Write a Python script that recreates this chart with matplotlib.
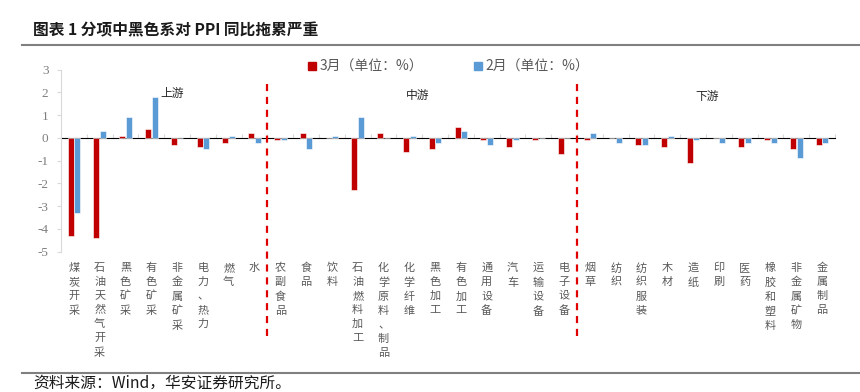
import matplotlib
matplotlib.use("Agg")
import matplotlib.pyplot as plt
import matplotlib.transforms as mtransforms
from matplotlib.lines import Line2D
import numpy as np

plt.rcParams['font.family'] = ['Noto Sans CJK SC', 'DejaVu Sans']

categories = ["煤炭开采", "石油天然气开采", "黑色矿采", "有色矿采", "非金属矿采", "电力、热力", "燃气", "水",
              "农副食品", "食品", "饮料", "石油燃料加工", "化学原料、制品", "化学纤维", "黑色加工", "有色加工",
              "通用设备", "汽车", "运输设备", "电子设备",
              "烟草", "纺织", "纺织服装", "木材", "造纸", "印刷", "医药", "橡胶和塑料", "非金属矿物", "金属制品"]
march = [-4.3, -4.4, 0.1, 0.4, -0.3, -0.4, -0.2, 0.2,
         -0.1, 0.2, 0.0, -2.3, 0.2, -0.6, -0.5, 0.5, -0.1, -0.4, -0.1, -0.7,
         -0.1, 0.0, -0.3, -0.4, -1.1, 0.0, -0.4, -0.1, -0.5, -0.3]
feb = [-3.3, 0.3, 0.9, 1.8, 0.0, -0.5, 0.1, -0.2,
       -0.1, -0.5, 0.1, 0.9, 0.0, 0.1, -0.2, 0.3, -0.3, -0.1, 0.0, 0.0,
       0.2, -0.2, -0.3, 0.1, -0.1, -0.2, -0.2, -0.2, -0.9, -0.2]
series_names = ["3月（单位：%）", "2月（单位：%）"]
sections = ["上游", "中游", "下游"]
section_sizes = [8, 12, 10]
yticks = [3, 2, 1, 0, -1, -2, -3, -4, -5]

red = "#C00000"
blue = "#5B9BD5"
gray_txt = "#595959"
axis_gray = "#D9D9D9"

fig = plt.figure(figsize=(8.6, 3.92), dpi=100)
ax = fig.add_axes([61/860, 1-251.7/392, (835-61)/860, 182/392])

x = np.arange(len(categories))
w = 0.23
ax.bar(x - 0.13, march, width=w, color=red, edgecolor="white", linewidth=0.4, label=series_names[0], zorder=3)
ax.bar(x + 0.13, feb, width=w, color=blue, edgecolor="white", linewidth=0.4, label=series_names[1], zorder=3)

ax.set_xlim(-0.5, len(categories) - 0.5)
ax.set_ylim(-5, 3)
ax.set_yticks(yticks)
ax.set_yticklabels([str(v) for v in yticks], family="Liberation Serif", fontsize=9.5, color="#7F7F7F")
ax.tick_params(axis='y', length=3, color=axis_gray, pad=6)

ax.set_xticks(x)
ax.set_xticklabels(["\n".join(c) for c in categories], fontsize=8, color=gray_txt, linespacing=1.5, va="top")
ax.tick_params(axis='x', length=0, pad=8)

for s in ["top", "right", "bottom"]:
    ax.spines[s].set_visible(False)
ax.spines["left"].set_color(axis_gray)

# zero axis with category ticks
sec = ax.secondary_xaxis(5/8)
sec.set_xticks(np.arange(len(categories) + 1) - 0.5)
sec.set_xticklabels([])
sec.tick_params(length=3, color=axis_gray, direction="out")
sec.spines["bottom"].set_color(axis_gray)

# section dividers
trans = mtransforms.blended_transform_factory(ax.transData, ax.transAxes)
bounds = np.cumsum(section_sizes)[:-1] - 0.5
for b in bounds:
    ax.plot([b, b], [0.921, -0.463], transform=trans, color="#E00000", lw=1.6,
            linestyle=(0, (3.2, 2.6)), clip_on=False, zorder=4)

# section labels
ax.text(3.35, 1.95, sections[0], fontsize=8.5, color="#262626", ha="left", va="center")
ax.text(13.34, 1.86, sections[1], fontsize=8.5, color="#262626", ha="center", va="center")
ax.text(24.54, 1.81, sections[2], fontsize=8.5, color="#262626", ha="center", va="center")

handles = [Line2D([], [], marker="s", linestyle="none", markersize=6, color=red),
           Line2D([], [], marker="s", linestyle="none", markersize=6, color=blue)]
leg = ax.legend(handles, series_names, loc="center", bbox_to_anchor=(0.5, 1.015), ncol=2, frameon=False,
                fontsize=10, handletextpad=0.1, columnspacing=3.6, handlelength=0.8)
for t in leg.get_texts():
    t.set_color(gray_txt)

# title and rules
fig.text(33/860, 1-30/392, "图表 1 分项中黑色系对 PPI 同比拖累严重", fontsize=11.3, fontweight="bold",
         color="#1a1a1a", ha="left", va="center")
fig.add_artist(Line2D([22/860, 1.0], [1-44.5/392, 1-44.5/392], color="#808080", lw=1.5))
fig.add_artist(Line2D([22/860, 1.0], [1-373/392, 1-373/392], color="#808080", lw=1.5))
fig.text(33/860, 1-383.5/392, "资料来源：Wind，华安证券研究所。", fontsize=11.3, color="#1a1a1a", ha="left", va="center")

fig.savefig("out.png", dpi=100)
